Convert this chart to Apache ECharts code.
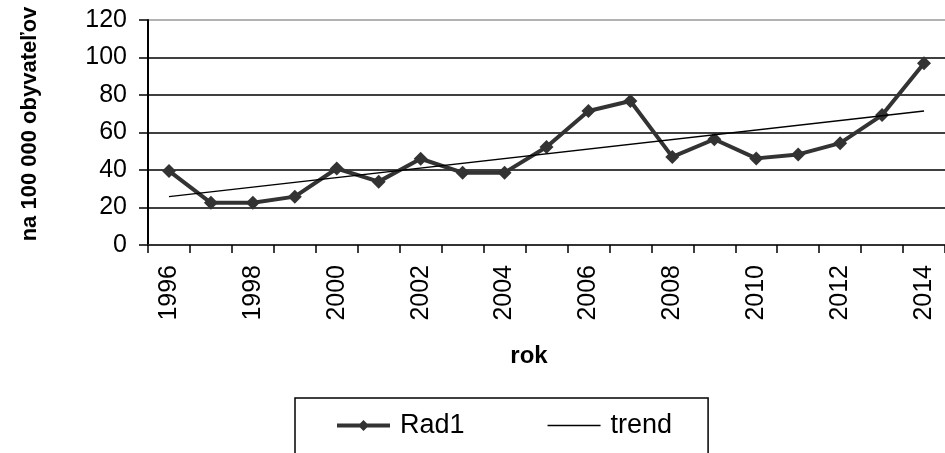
<!DOCTYPE html>
<html>
<head>
<meta charset="utf-8">
<script src="https://cdn.jsdelivr.net/npm/echarts@6/dist/echarts.min.js"></script>
<style>html,body{margin:0;padding:0;background:#fff;}#c{width:945px;height:453px;}</style>
</head>
<body>
<div id="c"></div>
<script>
var years = ['1996','1997','1998','1999','2000','2001','2002','2003','2004','2005','2006','2007','2008','2009','2010','2011','2012','2013','2014'];
var rad1 = [39.5, 22.5, 22.5, 25.8, 40.8, 33.8, 46.0, 38.6, 38.6, 52.3, 71.5, 76.8, 47.0, 56.4, 46.2, 48.3, 54.3, 69.3, 96.9];
var trendYears = ['1996', '2014'];
var trendValues = [25.8, 71.5];
var yTicks = [0, 20, 40, 60, 80, 100, 120];
var yTitle = 'na 100 000 obyvateľov';
var xTitle = 'rok';

var FONT = '"Liberation Sans", Arial, sans-serif';
var chart = echarts.init(document.getElementById('c'), null, {renderer: 'canvas'});
var trendData = trendYears.map(function (y, i) { return [y, trendValues[i]]; });
var splitColors = yTicks.map(function (v, i) { return i === yTicks.length - 1 ? '#999' : '#000'; });

var radIcon = 'path://M0,5 L53,5 L53,9 L0,9 Z M26.5,1.5 L32,7 L26.5,12.5 L21,7 Z';
var trendIcon = 'path://M0,0 L53,0 L53,1.5 L0,1.5 Z';

chart.setOption({
  animation: false,
  backgroundColor: '#fff',
  textStyle: {fontFamily: FONT},
  grid: {left: 148, right: 0, top: 20, bottom: 208, containLabel: false},
  xAxis: {
    type: 'category',
    data: years,
    boundaryGap: true,
    axisLine: {show: true, lineStyle: {color: '#333', width: 2}},
    axisTick: {show: true, interval: 0, length: 8, lineStyle: {color: '#000', width: 1.5}},
    axisLabel: {interval: 1, rotate: 90, margin: 20, color: '#000', fontSize: 25, fontFamily: FONT},
    splitLine: {show: false}
  },
  yAxis: {
    type: 'value',
    min: yTicks[0],
    max: yTicks[yTicks.length - 1],
    interval: yTicks[1] - yTicks[0],
    axisLine: {show: true, lineStyle: {color: '#000', width: 2}},
    axisTick: {show: true, length: 9, lineStyle: {color: '#000', width: 1.5}},
    axisLabel: {margin: 21, color: '#000', fontSize: 25, fontFamily: FONT},
    splitLine: {show: true, lineStyle: {color: splitColors, width: 1.5}}
  },
  legend: {
    left: 295,
    top: 398,
    orient: 'horizontal',
    borderColor: '#000',
    borderWidth: 1.5,
    padding: [14, 36, 60, 42],
    itemWidth: 53,
    itemHeight: 14,
    itemGap: 83,
    textStyle: {fontSize: 27, color: '#000', fontFamily: FONT, padding: [0, 0, 0, 5]},
    data: [
      {name: 'Rad1', icon: radIcon, itemStyle: {color: '#333'}},
      {name: 'trend', icon: trendIcon, itemStyle: {color: '#000'}}
    ]
  },
  graphic: [
    {type: 'text', x: 30, y: 124, rotation: Math.PI / 2,
      style: {text: yTitle, font: 'bold 22px ' + FONT, fill: '#000', textAlign: 'center', textVerticalAlign: 'middle'}},
    {type: 'text', x: 529, y: 356,
      style: {text: xTitle, font: 'bold 24px ' + FONT, fill: '#000', textAlign: 'center', textVerticalAlign: 'middle'}}
  ],
  series: [
    {
      name: 'Rad1', type: 'line', data: rad1,
      symbol: 'diamond', symbolSize: 14,
      lineStyle: {color: '#333', width: 4},
      itemStyle: {color: '#333'},
      z: 3
    },
    {
      name: 'trend', type: 'line', data: trendData,
      symbol: 'none',
      lineStyle: {color: '#000', width: 1.5},
      itemStyle: {color: '#000'},
      z: 4
    }
  ]
});
</script>
</body>
</html>
